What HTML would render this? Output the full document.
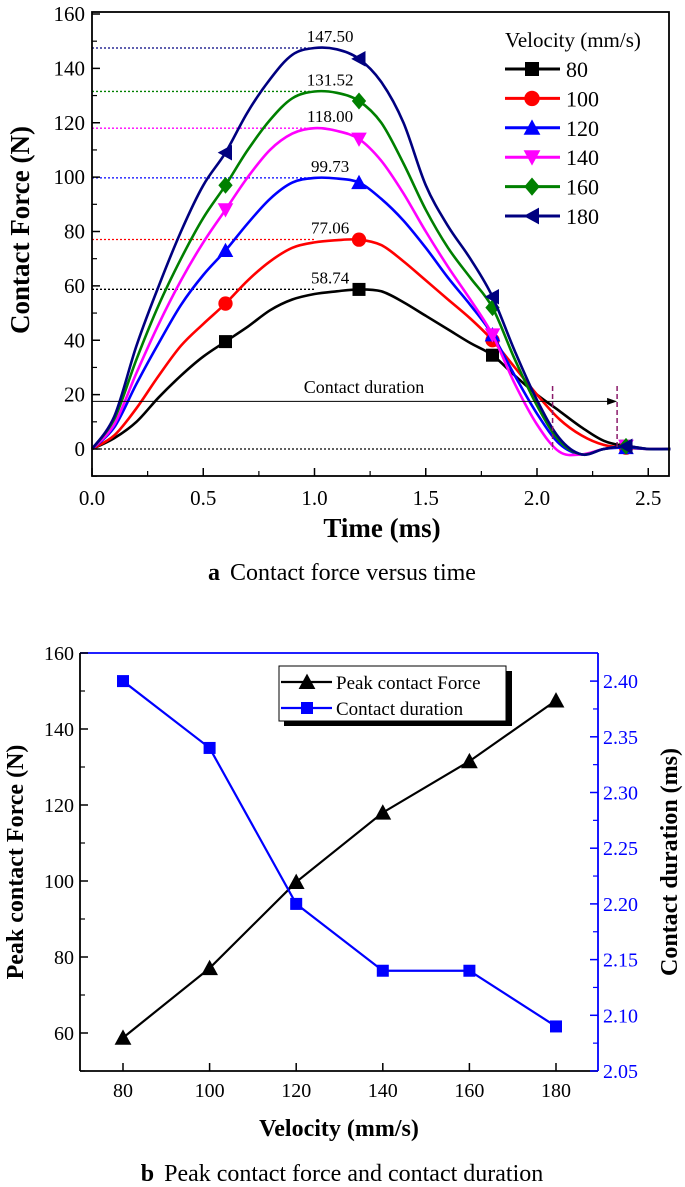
<!DOCTYPE html>
<html><head><meta charset="utf-8"><style>
html,body{margin:0;padding:0;background:#fff;}
svg{display:block;}
svg text{font-family:"Liberation Serif","DejaVu Serif",serif;}
</style></head><body>
<svg id="svg" width="685" height="1187" viewBox="0 0 685 1187" xmlns="http://www.w3.org/2000/svg" font-family="Liberation Serif, serif">
<g id="top"></g>
<g id="bot"></g>
</svg>
<script>
// ---- chart a data ----
const times = [0,0.1,0.2,0.3,0.4,0.5,0.6,0.7,0.8,0.9,1.0,1.1,1.2,1.3,1.4,1.5,1.6,1.7,1.8,1.9,2.0,2.1,2.2,2.3,2.4,2.5,2.6];
const velocities = [80,100,120,140,160,180];
const force80  = [0,4,10,19,27,34,39.5,45,51,55,57,58,58.7,58,54,49,44,39,34.5,27,20,14,8,3,1,0,0];
const force100 = [0,5,15,27,38,46,53.5,62,69,74,76,76.8,77,75,69,62,55,48,40,30,20,11,5,1.5,0.5,0,0];
const force120 = [0,8,24,39,53,64,73,83,92,98,99.7,99.5,98,92,84,74,63,53,42,27,13,2,-2,0,0.5,0,0];
const force140 = [0,9,28,46,62,76,88,100,110,116,118,117,114,106,94,80,67,55,42,24,9,-1,-2,0,1,0,0];
const force160 = [0,11,33,53,70,85,97,110,121,129,131.5,131,128,120,105,88,74,63,52,33,16,3,-2,0,1,0,0];
const force180 = [0,12,38,60,80,97,109,124,136,145,147.5,147,143.5,135,120,97,82,70,56,36,18,4,-2,0,1,0,0];
const peakLabels = ["58.74","77.06","99.73","118.00","131.52","147.50"];
const peakValues = [58.74,77.06,99.73,118.0,131.52,147.5];
const markerTimes = [0.6,1.2,1.8,2.4];
const yTicksA = [0,20,40,60,80,100,120,140,160];
const xTicksA = [0.0,0.5,1.0,1.5,2.0,2.5];
const contactStart = 2.07, contactEnd = 2.36;
// ---- chart b data ----
const velB = [80,100,120,140,160,180];
const peakB = [58.74,77.06,99.73,118.0,131.52,147.5];
const durB = [2.40,2.34,2.20,2.14,2.14,2.09];
const yTicksBL = [60,80,100,120,140,160];
const yTicksBR = ["2.05","2.10","2.15","2.20","2.25","2.30","2.35","2.40"];
const xTicksB = [80,100,120,140,160,180];

const NS="http://www.w3.org/2000/svg";
const FF="Liberation Serif, serif";
function mk(parent,tag,attrs,text){const e=document.createElementNS(NS,tag);for(const k in attrs)e.setAttribute(k,attrs[k]);if(tag==='text')e.setAttribute('font-family',FF);if(text!==undefined)e.textContent=text;parent.appendChild(e);return e;}

const colors=["#000000","#ff0000","#0000ff","#ff00ff","#008000","#000080"];
const series=[force80,force100,force120,force140,force160,force180];

function marker(g,type,cx,cy,s,c){
  let e;
  if(type===0) e=mk(g,'rect',{x:cx-s,y:cy-s,width:2*s,height:2*s,fill:c});
  else if(type===1) e=mk(g,'circle',{cx:cx,cy:cy,r:s*1.1,fill:c});
  else if(type===2) e=mk(g,'polygon',{points:`${cx},${cy-s*1.2} ${cx-s*1.2},${cy+s} ${cx+s*1.2},${cy+s}`,fill:c});
  else if(type===3) e=mk(g,'polygon',{points:`${cx},${cy+s*1.2} ${cx-s*1.2},${cy-s} ${cx+s*1.2},${cy-s}`,fill:c});
  else if(type===4) e=mk(g,'polygon',{points:`${cx},${cy-s*1.3} ${cx+s*1.1},${cy} ${cx},${cy+s*1.3} ${cx-s*1.1},${cy}`,fill:c});
  else e=mk(g,'polygon',{points:`${cx-s*1.2},${cy} ${cx+s},${cy-s*1.2} ${cx+s},${cy+s*1.2}`,fill:c});
  return e;
}
function interp(arr,t){const i=Math.min(Math.floor(t/0.1+1e-9),arr.length-2);const f=(t-times[i])/0.1;return arr[i]+(arr[i+1]-arr[i])*f;}
function smoothPath(P){
  let d='M'+P[0][0].toFixed(1)+','+P[0][1].toFixed(1);
  for(let i=0;i<P.length-1;i++){
    const p0=P[Math.max(0,i-1)],p1=P[i],p2=P[i+1],p3=P[Math.min(P.length-1,i+2)];
    const c1x=p1[0]+(p2[0]-p0[0])/6,c1y=p1[1]+(p2[1]-p0[1])/6;
    const c2x=p2[0]-(p3[0]-p1[0])/6,c2y=p2[1]-(p3[1]-p1[1])/6;
    d+=` C${c1x.toFixed(1)},${c1y.toFixed(1)} ${c2x.toFixed(1)},${c2y.toFixed(1)} ${p2[0].toFixed(1)},${p2[1].toFixed(1)}`;
  }
  return d;
}

// ===== Chart A =====
(function(){
  const g=document.getElementById('top');
  const L=92,R=669,T=12,B=476;
  const xS=t=>L+t*222.5;
  const yS=v=>449-v*(435/160);
  peakValues.forEach((p,i)=>{
    const l=mk(g,'line',{x1:L,x2:xS(1.0),y1:yS(p),y2:yS(p),stroke:colors[i],'stroke-width':1.3,'stroke-dasharray':'2,2'});
    
    
    const tx=mk(g,'text',{x:xS(1.07),y:yS(p)-6,'font-size':17,'text-anchor':'middle'},peakLabels[i]);
    
    
  });
  const z=mk(g,'line',{x1:L,x2:xS(2.07),y1:yS(0),y2:yS(0),stroke:'#000','stroke-width':1.3,'stroke-dasharray':'2,2'});
  
  series.forEach((s,i)=>{
    const P=s.map((v,j)=>[xS(times[j]),yS(v)]);
    const p=mk(g,'path',{d:smoothPath(P),fill:'none',stroke:colors[i],'stroke-width':2.6,'stroke-linejoin':'round'});
    
    
    markerTimes.forEach(t=>{
      const m=marker(g,i,xS(t),yS(interp(s,t)),6.5,colors[i]);
      
      
    });
  });
  const ay=yS(17.5);
  const ar=mk(g,'line',{x1:L,x2:xS(contactEnd)-9,y1:ay,y2:ay,stroke:'#000','stroke-width':1});
  
  const ah=mk(g,'polygon',{points:`${xS(contactEnd)},${ay} ${xS(contactEnd)-10},${ay-3.5} ${xS(contactEnd)-10},${ay+3.5}`,fill:'#000'});
  
  [contactStart,contactEnd].forEach((c,k)=>{
    const d=mk(g,'line',{x1:xS(c),x2:xS(c),y1:386,y2:449,stroke:'#8b1a6b','stroke-width':1.5,'stroke-dasharray':'5,3'});
    
  });
  const ct=mk(g,'text',{x:364,y:393,'font-size':18,'text-anchor':'middle'},'Contact duration');
  
  const fr=mk(g,'rect',{x:L,y:T,width:R-L,height:B-T,fill:'none',stroke:'#000','stroke-width':1.8});
  
  yTicksA.forEach(v=>{
    mk(g,'line',{x1:L,x2:L+8,y1:yS(v),y2:yS(v),stroke:'#000','stroke-width':1.5});
    mk(g,'line',{x1:L,x2:L+5,y1:yS(v+10),y2:yS(v+10),stroke:'#000','stroke-width':1.2});
    const t=mk(g,'text',{x:L-7,y:yS(v)+7,'font-size':21,'text-anchor':'end'},String(v));
    
  });
  mk(g,'line',{x1:L,x2:L+5,y1:yS(-10),y2:yS(-10),stroke:'#000','stroke-width':1.2});
  xTicksA.forEach(v=>{
    mk(g,'line',{x1:xS(v),x2:xS(v),y1:B,y2:B-8,stroke:'#000','stroke-width':1.5});
    if(xS(v+0.25)<R) mk(g,'line',{x1:xS(v+0.25),x2:xS(v+0.25),y1:B,y2:B-5,stroke:'#000','stroke-width':1.2});
    const t=mk(g,'text',{x:xS(v),y:505,'font-size':21,'text-anchor':'middle'},v.toFixed(1));
    
  });
  const xt=mk(g,'text',{x:382,y:537,'font-size':27,'font-weight':'bold','text-anchor':'middle'},'Time (ms)');
  
  const yt=mk(g,'text',{x:0,y:0,'font-size':27,'font-weight':'bold','text-anchor':'middle',transform:'translate(29,230) rotate(-90)'},'Contact Force (N)');
  
  const lg=mk(g,'g',{});
  
  mk(lg,'text',{x:505,y:47,'font-size':21},'Velocity (mm/s)');
  velocities.forEach((v,i)=>{
    const y=69+i*29.4;
    const e=mk(lg,'g',{});
    
    mk(e,'line',{x1:505,x2:560,y1:y,y2:y,stroke:colors[i],'stroke-width':3});
    marker(e,i,532,y,7,colors[i]);
    mk(e,'text',{x:566,y:y+8,'font-size':22},String(v));
  });
  const cap=mk(g,'text',{x:342,y:580,'font-size':24,'text-anchor':'middle'},'');
  
  mk(cap,'tspan',{'font-weight':'bold'},'a');
  mk(cap,'tspan',{dx:10},'Contact force versus time');
})();

// ===== Chart B =====
(function(){
  const g=document.getElementById('bot');
  const L=80,R=598,T=653,B=1071;
  const xS=v=>123+(v-80)*4.33;
  const yS=v=>653+(160-v)*3.8;
  const yR=v=>1071-(v-2.05)*1114;
  const top=mk(g,'line',{x1:L,x2:R,y1:T,y2:T,stroke:'#0000ff','stroke-width':1.8});
  
  const la=mk(g,'line',{x1:L,x2:L,y1:T,y2:B,stroke:'#000','stroke-width':1.8});
  
  const ba=mk(g,'line',{x1:L,x2:R,y1:B,y2:B,stroke:'#000','stroke-width':1.8});
  
  const ra=mk(g,'line',{x1:R,x2:R,y1:T,y2:B,stroke:'#0000ff','stroke-width':1.8});
  
  yTicksBL.forEach(v=>{
    mk(g,'line',{x1:L,x2:L+8,y1:yS(v),y2:yS(v),stroke:'#000','stroke-width':1.5});
    mk(g,'line',{x1:L,x2:L+5,y1:yS(v-10),y2:yS(v-10),stroke:'#000','stroke-width':1.2});
    const t=mk(g,'text',{x:L-6,y:yS(v)+7,'font-size':20,'text-anchor':'end'},String(v));
    
  });
  yTicksBR.forEach(s=>{
    const v=parseFloat(s);
    mk(g,'line',{x1:R,x2:R-8,y1:yR(v),y2:yR(v),stroke:'#0000ff','stroke-width':1.5});
    if(v<2.4) mk(g,'line',{x1:R,x2:R-5,y1:yR(v+0.025),y2:yR(v+0.025),stroke:'#0000ff','stroke-width':1.2});
    const t=mk(g,'text',{x:R+5,y:yR(v)+7,'font-size':20,fill:'#0000ff'},s);
    
  });
  xTicksB.forEach(v=>{
    mk(g,'line',{x1:xS(v),x2:xS(v),y1:B,y2:B-8,stroke:'#000','stroke-width':1.5});
    const t=mk(g,'text',{x:xS(v),y:1097,'font-size':20,'text-anchor':'middle'},String(v));
    
  });
  const pl=mk(g,'polyline',{points:velB.map((v,i)=>xS(v)+','+yS(peakB[i])).join(' '),fill:'none',stroke:'#000','stroke-width':2.2});
  
  velB.forEach((v,i)=>{
    const m=marker(g,2,xS(v),yS(peakB[i]),7,'#000');
    
  });
  const dl=mk(g,'polyline',{points:velB.map((v,i)=>xS(v)+','+yR(durB[i])).join(' '),fill:'none',stroke:'#0000ff','stroke-width':2.2});
  
  velB.forEach((v,i)=>{
    const m=marker(g,0,xS(v),yR(durB[i]),6,'#0000ff');
    
  });
  const lg=mk(g,'g',{});
  
  mk(lg,'rect',{x:284,y:671,width:228,height:55,fill:'#000'});
  mk(lg,'rect',{x:279,y:666,width:227,height:55,fill:'#fff',stroke:'#000','stroke-width':1});
  mk(lg,'line',{x1:281,x2:332,y1:682,y2:682,stroke:'#000','stroke-width':2.2});
  marker(lg,2,307,682,7,'#000');
  mk(lg,'text',{x:336,y:689,'font-size':19},'Peak contact Force');
  mk(lg,'line',{x1:281,x2:332,y1:708,y2:708,stroke:'#0000ff','stroke-width':2.2});
  marker(lg,0,307,708,6,'#0000ff');
  mk(lg,'text',{x:336,y:715,'font-size':19},'Contact duration');
  const xt=mk(g,'text',{x:339,y:1136,'font-size':24,'font-weight':'bold','text-anchor':'middle'},'Velocity (mm/s)');
  
  const yt=mk(g,'text',{x:0,y:0,'font-size':24,'font-weight':'bold','text-anchor':'middle',transform:'translate(23,862) rotate(-90)'},'Peak contact Force (N)');
  
  const rt=mk(g,'text',{x:0,y:0,'font-size':24,'font-weight':'bold','text-anchor':'middle',transform:'translate(677,862) rotate(-90)'},'Contact duration (ms)');
  
  const cap=mk(g,'text',{x:342,y:1181,'font-size':24,'text-anchor':'middle'},'');
  
  mk(cap,'tspan',{'font-weight':'bold'},'b');
  mk(cap,'tspan',{dx:10},'Peak contact force and contact duration');
})();
</script>
</body></html>
